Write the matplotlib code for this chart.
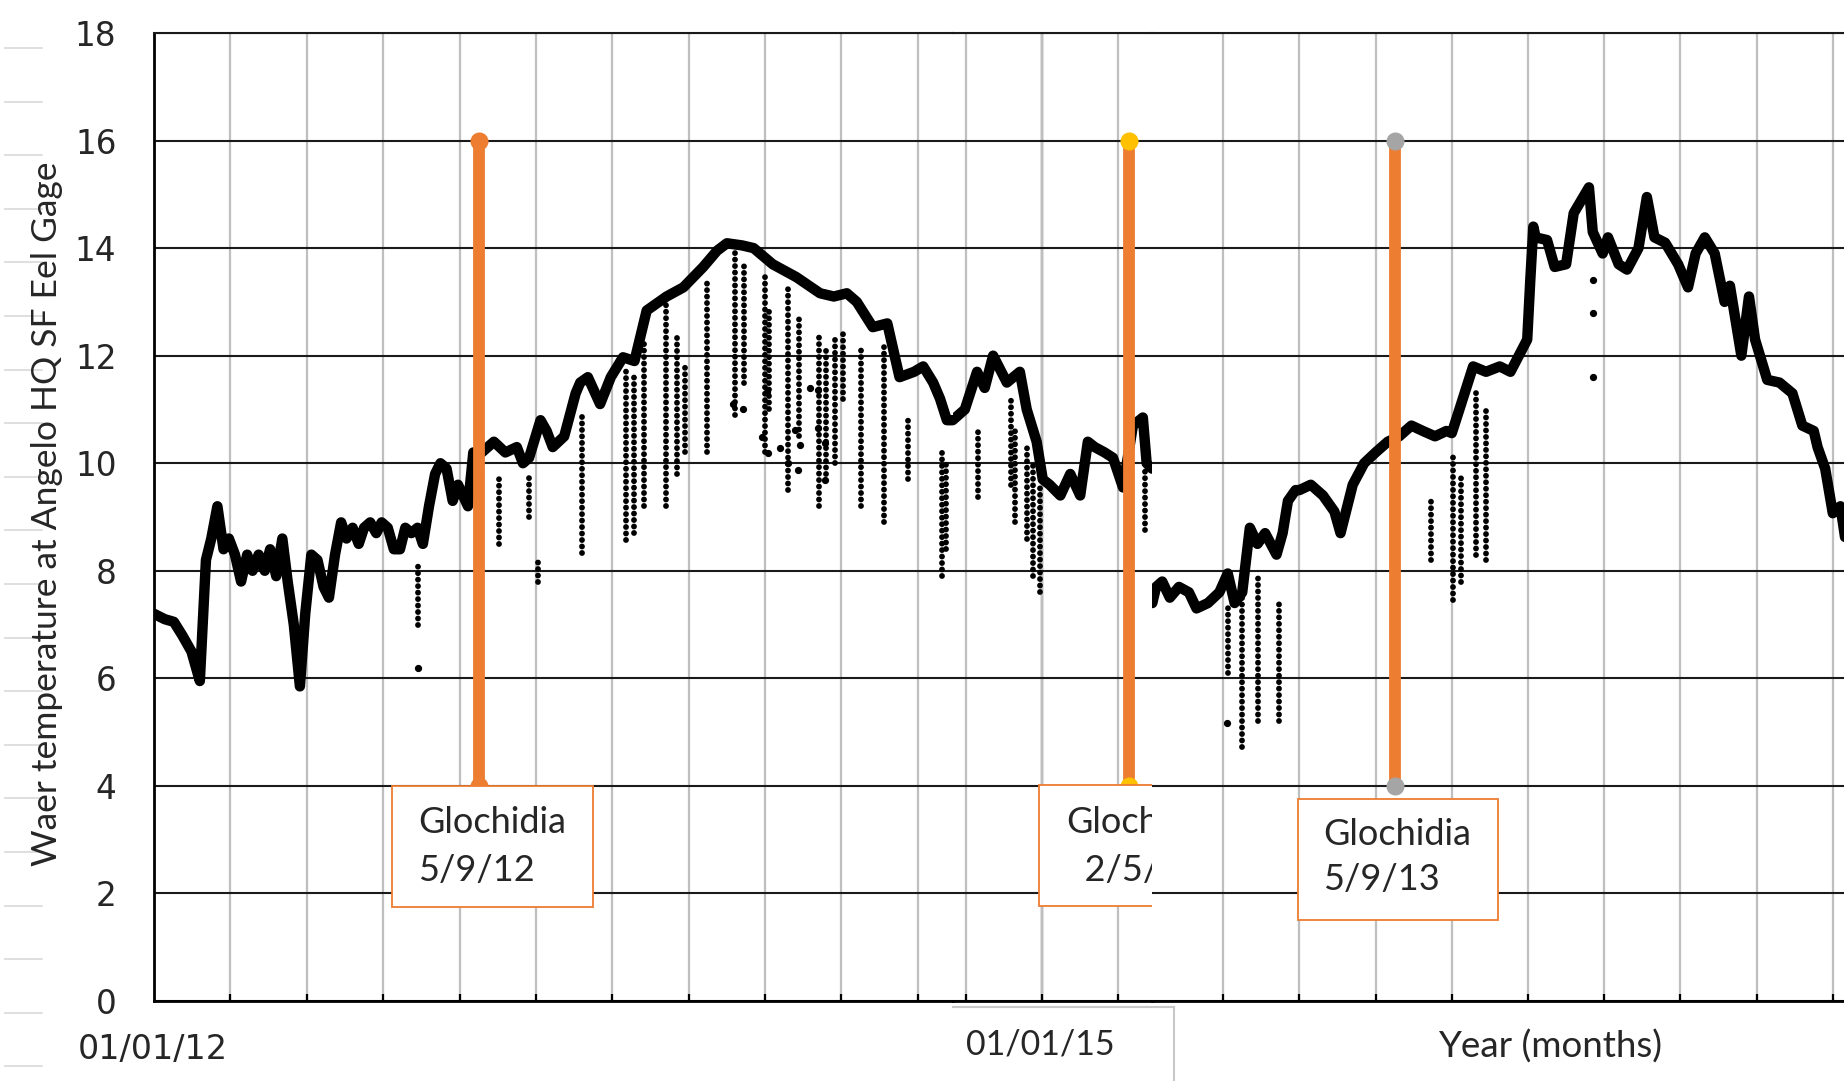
import matplotlib
matplotlib.use("Agg")
import matplotlib.pyplot as plt
from matplotlib.lines import Line2D
from matplotlib.patches import Rectangle

# x values are months counted from 1 January of each panel's year (Jan 1 = 0)

# 2012 record, main trace
t12 = [0.00, 0.14, 0.26, 0.37, 0.49, 0.60, 0.68, 0.75, 0.83, 0.91, 0.98, 1.06, 1.14,
       1.22, 1.29, 1.37, 1.45, 1.52, 1.60, 1.68, 1.75, 1.83, 1.91, 1.98, 2.06, 2.14,
       2.22, 2.29, 2.37, 2.45, 2.52, 2.60, 2.68, 2.75, 2.83, 2.91, 2.98, 3.06, 3.14,
       3.22, 3.29, 3.37, 3.45, 3.52, 3.60, 3.68, 3.75, 3.83, 3.91, 3.98, 4.11, 4.18,
       4.29, 4.45, 4.60, 4.75, 4.83, 4.91, 5.06, 5.14, 5.22, 5.37, 5.52, 5.58, 5.68,
       5.84, 5.98, 6.14, 6.29, 6.45, 6.71, 6.93, 7.19, 7.37, 7.50, 7.70, 7.85, 8.10,
       8.41, 8.72, 8.90, 9.07, 9.20, 9.41, 9.60, 9.76, 9.95, 10.07, 10.20, 10.29,
       10.38, 10.46]
temp12 = [7.2, 7.1, 7.05, 6.8, 6.5, 5.95, 8.2, 8.6, 9.2, 8.4, 8.6, 8.3, 7.8,
          8.3, 8.0, 8.3, 8.0, 8.4, 7.9, 8.6, 7.8, 7.0, 5.85, 7.2, 8.3, 8.2,
          7.7, 7.5, 8.3, 8.9, 8.6, 8.8, 8.5, 8.8, 8.9, 8.7, 8.9, 8.8, 8.4,
          8.4, 8.8, 8.7, 8.8, 8.5, 9.2, 9.8, 10.0, 9.9, 9.3, 9.6, 9.2, 10.2,
          10.2, 10.4, 10.2, 10.3, 10.0, 10.1, 10.8, 10.6, 10.3, 10.5, 11.3, 11.5, 11.6,
          11.1, 11.6, 11.97, 11.9, 12.84, 13.1, 13.27, 13.65, 13.95, 14.09, 14.05, 14.0, 13.7,
          13.46, 13.16, 13.1, 13.16, 13.0, 12.53, 12.6, 11.6, 11.7, 11.8, 11.5,
          11.2, 10.8, 10.8]

# 2012 low readings: vertical runs of points (month, top, bottom)
run12_x = [3.45, 4.25, 4.52, 4.91, 5.03, 5.60, 6.18, 6.29, 6.41, 6.70, 6.85, 6.95,
           7.24, 7.60, 7.72, 8.00, 8.05, 8.30, 8.45, 8.70, 8.80, 8.91, 9.02, 9.25,
           9.56, 9.87, 10.32, 10.37]
run12_top = [8.1, 9.8, 9.7, 9.8, 8.2, 10.9, 11.8, 11.6, 12.3, 13.0, 12.4, 11.8,
             13.4, 13.9, 13.7, 13.5, 12.9, 13.3, 12.8, 12.4, 12.2, 12.4, 12.4, 12.1,
             12.2, 10.8, 10.3, 10.0]
run12_bot = [7.0, 9.0, 8.5, 9.0, 7.8, 8.33, 8.57, 8.7, 9.2, 9.2, 9.8, 10.2,
             10.2, 10.9, 11.5, 10.2, 11.0, 9.5, 10.5, 9.2, 9.8, 10.0, 11.2, 9.2,
             8.9, 9.7, 7.9, 8.4]
dot12_x = [3.45, 8.02, 7.96, 8.04, 8.19, 8.30, 8.43, 8.59, 8.69, 8.69, 8.78, 8.78,
           8.39, 8.46, 7.58, 7.71]
dot12_y = [6.2, 11.32, 10.48, 10.19, 10.28, 10.0, 9.87, 11.39, 11.36, 10.65, 9.68, 10.37,
           10.61, 10.33, 11.1, 11.0]

# 2015 record, around 1 January
t15 = [-1.17, -1.01, -0.85, -0.75, -0.64, -0.46, -0.29, -0.20, -0.07, 0.01, 0.10,
       0.24, 0.37, 0.50, 0.60, 0.69, 0.82, 0.93, 1.06, 1.19, 1.32, 1.37, 1.44]
temp15 = [10.8, 11.0, 11.7, 11.4, 12.0, 11.5, 11.7, 11.0, 10.4, 9.7, 9.6,
          9.4, 9.8, 9.4, 10.4, 10.3, 10.2, 10.1, 9.55, 10.7, 10.85, 10.0, 9.9]
run15_x = [-0.84, -0.41, -0.35, -0.19, -0.12, -0.02, 1.35]
run15_top = [10.7, 11.2, 10.6, 10.4, 10.0, 9.6, 9.9]
run15_bot = [9.37, 9.6, 8.9, 8.6, 7.9, 7.6, 8.75]

# 2013 record, main trace
t13 = [1.07, 1.12, 1.20, 1.30, 1.42, 1.55, 1.65, 1.80, 1.95, 2.06, 2.15, 2.25, 2.35,
       2.45, 2.55, 2.70, 2.78, 2.85, 2.95, 3.00, 3.15, 3.31, 3.46, 3.54, 3.70, 3.85,
       4.00, 4.16, 4.31, 4.47, 4.62, 4.78, 4.93, 5.00, 5.10, 5.28, 5.45, 5.63, 5.77,
       5.99, 6.03, 6.07, 6.10, 6.25, 6.35, 6.50, 6.60, 6.80, 6.85, 6.98, 7.05, 7.19,
       7.30, 7.45, 7.56, 7.66, 7.80, 7.97, 8.10, 8.20, 8.32, 8.45, 8.58, 8.65, 8.80,
       8.90, 8.98, 9.14, 9.30, 9.47, 9.60, 9.75, 9.80, 9.90, 10.00, 10.10, 10.20]
temp13 = [7.4, 7.7, 7.8, 7.5, 7.7, 7.6, 7.3, 7.4, 7.6, 7.95, 7.4, 7.6, 8.8,
          8.5, 8.7, 8.3, 8.7, 9.3, 9.5, 9.5, 9.6, 9.4, 9.1, 8.7, 9.6, 10.0,
          10.2, 10.4, 10.5, 10.7, 10.6, 10.5, 10.6, 10.56, 11.0, 11.8, 11.7, 11.8, 11.7,
          12.3, 13.4, 14.4, 14.2, 14.15, 13.65, 13.7, 14.65, 15.13, 14.3, 13.9, 14.2, 13.7,
          13.6, 14.0, 14.95, 14.2, 14.1, 13.7, 13.27, 13.9, 14.2, 13.9, 13.0, 13.3, 12.0,
          13.1, 12.3, 11.55, 11.5, 11.3, 10.7, 10.6, 10.3, 9.9, 9.07, 9.2, 8.25]
run13_x = [2.06, 2.25, 2.46, 2.73, 4.73, 5.02, 5.12, 5.32, 5.45]
run13_top = [7.3, 7.6, 7.9, 7.5, 9.3, 10.2, 9.8, 11.3, 11.0]
run13_bot = [6.1, 4.72, 5.2, 5.2, 8.2, 7.45, 7.8, 8.3, 8.2]
dot13_x = [2.05, 6.85, 6.85, 6.85]
dot13_y = [5.17, 13.4, 12.8, 11.6]

# glochidia release dates (month position, panel)
gloch_x = [4.26, 1.14, 4.26]
gloch_labels = ["Glochidia\n5/9/12", "Glochidia\n  2/5/15", "Glochidia\n5/9/13"]
gloch_marker = ["#ED7D31", "#FFC000", "#A5A5A5"]
gloch_low, gloch_high = 4, 16

W, H = 1844, 1081
fig = plt.figure(figsize=(W / 100, H / 100), dpi=100)

def px_axes(x0, x1, y0=33, y1=1001):
    return fig.add_axes([x0 / W, 1 - y1 / H, (x1 - x0) / W, (y1 - y0) / H])

axL = px_axes(154, 953)
axM = px_axes(953, 1152)
axR = px_axes(1152, 1844)

axL.set_xlim(0, 10.46)
axM.set_xlim(-1.165, 1.44)
axR.set_xlim(1.066, 10.147)

for ax in (axL, axM, axR):
    ax.set_ylim(0, 18)
    ax.set_yticks(range(0, 19, 2))
    lo, hi = ax.get_xlim()
    ax.set_xticks([k for k in range(-2, 12) if lo < k < hi])
    ax.set_xticklabels([])
    ax.grid(axis="x", color="#bfbfbf", lw=1.6, zorder=0)
    ax.grid(axis="y", color="#1a1a1a", lw=1.5, zorder=0)
    ax.set_axisbelow(True)
    ax.tick_params(axis="x", direction="in", length=5, width=1.6, color="black")
    ax.tick_params(axis="y", length=0)
    for s in ("right", "left"):
        ax.spines[s].set_visible(False)
    ax.spines["top"].set_color("#1a1a1a")
    ax.spines["top"].set_linewidth(1.5)
    ax.spines["bottom"].set_color("black")
    ax.spines["bottom"].set_linewidth(2.0)
    ax.patch.set_alpha(0)

axL.spines["left"].set_visible(True)
axL.spines["left"].set_color("black")
axL.spines["left"].set_linewidth(2.0)
axL.tick_params(axis="y", pad=27, labelsize=23.5, labelcolor="#262626")
for ax in (axM, axR):
    ax.set_yticklabels([])
axM.axvline(0, color="black", lw=1.6, zorder=0.5)

trace_kw = dict(color="black", lw=7.5, solid_joinstyle="round", solid_capstyle="round", zorder=3)
run_kw = dict(color="black", lw=4.2, ls=(0, (0.01, 1.1)), dash_capstyle="round", zorder=3)
axL.plot(t12, temp12, **trace_kw)
axM.plot(t15, temp15, **trace_kw)
axR.plot(t13, temp13, **trace_kw)
for ax, xs, tops, bots in ((axL, run12_x, run12_top, run12_bot),
                           (axM, run15_x, run15_top, run15_bot),
                           (axR, run13_x, run13_top, run13_bot)):
    for x, a, b in zip(xs, tops, bots):
        ax.plot([x, x], [b, a], **run_kw)
axL.plot(dot12_x, dot12_y, "o", color="black", ms=4.2, zorder=3)
axR.plot(dot13_x, dot13_y, "o", color="black", ms=4.2, zorder=3)

# glochidia markers and their label boxes
box_spans = [(3.115, 5.746, 1.75, 4.0), (-0.04, 2.0, 1.77, 4.01), (2.98, 5.61, 1.5, 3.75)]
text_pos = [(3.455, 3.31, 2.43), (0.314, 3.31, 2.43), (3.31, 3.09, 2.25)]
for ax, x, lab, mc, (bx0, bx1, by0, by1), (tx, ty1, ty2) in zip(
        (axL, axM, axR), gloch_x, gloch_labels, gloch_marker, box_spans, text_pos):
    ax.plot([x, x], [gloch_low, gloch_high], color="#ED7D31", lw=8.5,
            marker="o", ms=12, mfc=mc, mec=mc, zorder=4)
    ax.add_patch(Rectangle((bx0, by0), bx1 - bx0, by1 - by0, facecolor="white",
                           edgecolor="#ED7D31", lw=1.3, zorder=5))
    first, second = lab.split("\n")
    ax.text(tx, ty1, first, fontsize=26, family="Lato", color="#262626",
            va="center", ha="left", zorder=6, clip_on=True)
    ax.text(tx, ty2, second, fontsize=26, family="Lato", color="#262626",
            va="center", ha="left", zorder=6, clip_on=True)

# axis titles and date labels
fig.text(47 / W, 1 - 514 / H, "Waer temperature at Angelo HQ SF Eel Gage", rotation=90,
         fontsize=25.5, family="Lato", color="#262626", ha="center", va="center")
fig.text(153 / W, 1 - 1049 / H, "01/01/12", fontsize=24, color="#262626",
         ha="center", va="center")
fig.text(1040 / W, 1 - 1045 / H, "01/01/15", fontsize=24.5, family="Lato",
         color="#262626", ha="center", va="center")
fig.text(1550 / W, 1 - 1047 / H, "Year (months)", fontsize=26.5, family="Lato",
         color="#262626", ha="center", va="center")

# border of the date label cell
fig.add_artist(Line2D([953 / W, 1174 / W], [1 - 1007 / H, 1 - 1007 / H], color="#c8c8c8", lw=1.5))
fig.add_artist(Line2D([1174 / W, 1174 / W], [1 - 1007 / H, 0], color="#c8c8c8", lw=1.5))

# sheet row rules down the left margin
for k in range(20):
    y = 1 - (48 + 53.6 * k) / H
    fig.add_artist(Line2D([5 / W, 42 / W], [y, y], color="#d9d9d9", lw=1.2))

fig.savefig("out.png", dpi=100)
